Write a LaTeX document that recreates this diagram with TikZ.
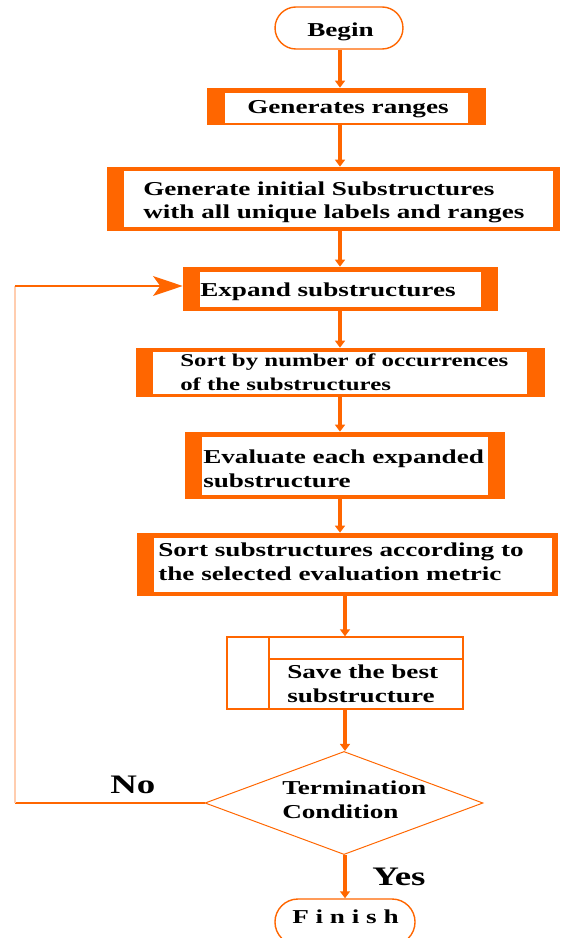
\documentclass[tikz,border=0pt]{standalone}
\usepackage{fontspec}
\setmainfont{Liberation Serif}[FakeStretch=1.38]
\usetikzlibrary{fit, shapes.geometric, shapes.misc, arrows.meta}

\definecolor{flow}{RGB}{255, 102, 0}
\definecolor{pale}{RGB}{255, 205, 175}

\tikzset{
  frame/.style={fill=flow, inner sep=0pt},
  term/.style={draw=flow, line width=1pt, rounded rectangle, inner sep=0pt},
  words/.style={font=\bfseries\fontsize{14}{16.5}\selectfont, align=left, inner sep=0pt, anchor=base west},
  big/.style={font=\bfseries\fontsize{19}{22}\selectfont, inner sep=0pt, anchor=base west},
  flowline/.style={draw=flow, line width=3pt, -{Triangle[length=5pt, width=7pt]}},
}

\begin{document}
\begin{tikzpicture}[x=0.025cm, y=-0.025cm]

  \useasboundingbox (0, 0) rectangle (560, 938);

  % start and end
  \node[term, minimum width=91pt, minimum height=29.9pt] (begin) at (339, 28) {};
  \node[words] (tbegin) at (307, 37) {Begin};

  \node[term, minimum width=99.6pt, minimum height=32.7pt] (finish) at (345, 922) {};
  \node[words] (tfinish) at (292, 923) {F i n i s h};

  % process boxes (base = last line)
  \node[frame, fit={(207, 88) (486, 125)}] (ranges) {};
  \fill[white] (225, 93) rectangle (468, 123);
  \node[words] (tranges) at (247, 114) {Generates ranges};

  \node[frame, fit={(107, 167) (560, 231)}] (init) {};
  \fill[white] (124, 171) rectangle (553, 227);
  \node[words] (tinit) at (143, 219) {Generate initial Substructures\\with all unique labels and ranges};

  \node[frame, fit={(183, 267) (498, 311)}] (expand) {};
  \fill[white] (200, 272) rectangle (481, 307);
  \node[words] (texpand) at (200, 296) {Expand substructures};

  \node[frame, fit={(136, 348) (545, 397)}] (sortocc) {};
  \fill[white] (153, 352) rectangle (527, 394);
  \node[words, font=\bfseries\fontsize{12.8}{16.5}\selectfont] (tsortocc) at (180, 390) {Sort by number of occurrences\\of the substructures};

  \node[frame, fit={(185, 432) (505, 499)}] (eval) {};
  \fill[white] (202, 437) rectangle (488, 495);
  \node[words] (teval) at (203, 487) {Evaluate each expanded\\substructure};

  \node[frame, fit={(137, 533) (558, 596)}] (sortmet) {};
  \fill[white] (154, 538) rectangle (552, 592);
  \node[words] (tsortmet) at (158, 580) {Sort substructures according to\\the selected evaluation metric};

  \node[draw=flow, line width=0.9pt, inner sep=0pt, fit={(227, 637) (463, 709)}] (save) {};
  \draw[flow, line width=0.9pt] (269, 637) -- (269, 709) (269, 659) -- (463, 659);
  \node[words] (tsave) at (287, 702) {Save the best\\substructure};

  % decision
  \node[draw=flow, line width=0.7pt, diamond, minimum width=197.7pt, minimum height=73.3pt, inner sep=0pt] (cond) at (344, 803) {};
  \node[words] (tcond) at (282, 818) {Termination\\Condition};

  \node[big] (no) at (110, 793) {No};
  \node[big] (yes) at (372, 885) {Yes};

  % connectors
  \coordinate (spine) at (340, 0);
  \coordinate (spinelow) at (345, 0);
  \draw[flowline] (begin.south -| spine) -- (ranges.north -| spine);
  \draw[flowline] (ranges.south -| spine) -- (init.north -| spine);
  \draw[flowline] (init.south -| spine) -- (expand.north -| spine);
  \draw[flowline] (expand.south -| spine) -- (sortocc.north -| spine);
  \draw[flowline] (sortocc.south -| spine) -- (eval.north -| spine);
  \draw[flowline] (eval.south -| spine) -- (sortmet.north -| spine);
  \draw[flowline] (sortmet.south -| spinelow) -- (save.north -| spinelow);
  \draw[flowline] (save.south -| spinelow) -- (cond.north -| spinelow);
  \draw[flowline] (cond.south -| spinelow) -- (finish.north -| spinelow);

  % loop back
  \coordinate (loopdown) at (15, 803);
  \coordinate (loopup) at (15, 286);
  \draw[flow, line width=1pt] (cond.west) -- (loopdown);
  \draw[pale, line width=0.8pt] (loopdown) -- (loopup);
  \draw[flow, line width=2pt, -{Stealth[length=21pt, width=14pt, inset=5pt]}] (loopup) -- (loopup -| expand.west);

\end{tikzpicture}
\end{document}
